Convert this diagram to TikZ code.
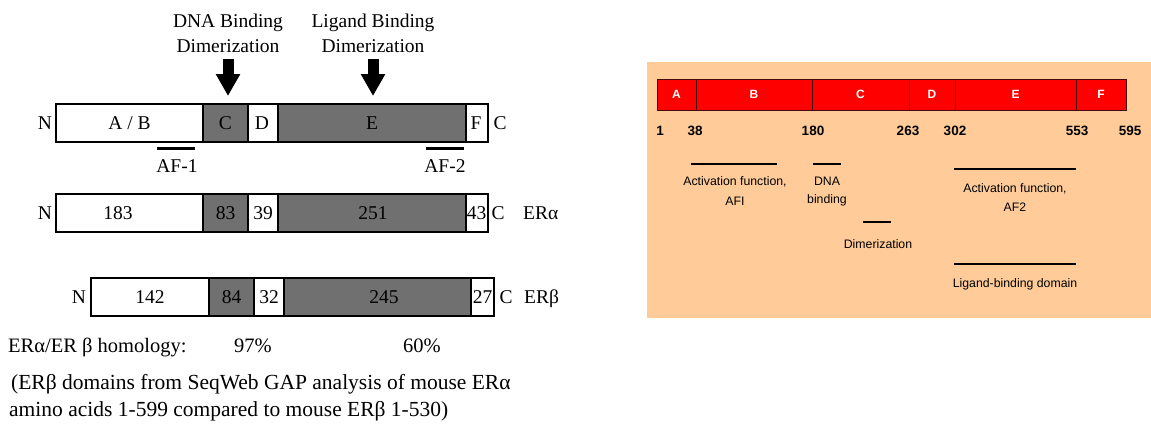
\documentclass[tikz,border=0pt]{standalone}
\usepackage{fontspec}
\setmainfont{Liberation Serif}
\newfontfamily\chic{Liberation Sans}
\usetikzlibrary{arrows.meta}
\definecolor{segGray}{RGB}{112,112,112}
\definecolor{peach}{RGB}{255,204,153}
\definecolor{barRed}{RGB}{255,0,0}
\definecolor{barEdge}{RGB}{70,10,10}
\begin{document}
\begin{tikzpicture}[x=1pt,y=-1pt,
  seg/.style={draw=black,line width=1.3pt,inner sep=0pt,outer sep=0pt,minimum height=38pt,anchor=north west},
  wseg/.style={seg,fill=white},
  gseg/.style={seg,fill=segGray},
  lbl/.style={inner sep=0pt,anchor=base,font=\fontsize{19.5}{23}\selectfont},
  lbll/.style={lbl,anchor=base west},
  notetxt/.style={lbll,font=\fontsize{21.5}{25}\selectfont},
  blockarrow/.style={line width=11pt,-{Triangle[length=22pt,width=23pt]}},
  afline/.style={line width=3pt},
  rseg/.style={draw=barEdge,line width=0.9pt,fill=barRed,inner sep=0pt,outer sep=0pt,minimum height=31pt,anchor=north west},
  rlet/.style={text=white,font=\chic\bfseries\fontsize{12}{14}\selectfont,inner sep=0pt},
  rnum/.style={inner sep=0pt,anchor=base,font=\chic\bfseries\fontsize{13.5}{16}\selectfont},
  rtxt/.style={inner sep=0pt,anchor=base,font=\chic\fontsize{12.3}{14}\selectfont},
  rline/.style={line width=1.1pt}
]
\useasboundingbox (0,0) rectangle (1151,424);

% ---------------- left: row 1 ----------------
\node[lbl] (dna1) at (228,27) {DNA Binding};
\node[lbl] (dna2) at (228,52) {Dimerization};
\node[lbl] (lig1) at (373,27) {Ligand Binding};
\node[lbl] (lig2) at (373,52) {Dimerization};
\coordinate (dnaS) at (228,59);
\coordinate (dnaT) at (228,96);
\coordinate (ligS) at (373,59);
\coordinate (ligT) at (373,96);
\draw[blockarrow] (dnaS) -- (dnaT);
\draw[blockarrow] (ligS) -- (ligT);

\node[wseg,minimum width=147pt] (ab1) at (56,104) {};
\node[gseg,minimum width=45pt] (c1) at (203,104) {};
\node[wseg,minimum width=30pt] (d1) at (248,104) {};
\node[gseg,minimum width=188pt] (e1) at (278,104) {};
\node[wseg,minimum width=22pt] (f1) at (466,104) {};
\node[lbl] at (129.5,129) {A / B};
\node[lbl] at (225.5,129) {C};
\node[lbl] at (262,129) {D};
\node[lbl] at (372,129) {E};
\node[lbl] at (476,129) {F};
\node[lbl] (n1) at (45,129) {N};
\node[lbl] (cc1) at (500,129) {C};

\coordinate (af1a) at (157,148);
\coordinate (af1b) at (195,148);
\draw[afline] (af1a) -- (af1b);
\node[lbl] (af1) at (177,172) {AF-1};
\coordinate (af2a) at (426,148);
\coordinate (af2b) at (464,148);
\draw[afline] (af2a) -- (af2b);
\node[lbl] (af2) at (445,172) {AF-2};

% ---------------- left: row 2 ----------------
\node[wseg,minimum width=147pt] (ab2) at (56,194) {};
\node[gseg,minimum width=45pt] (c2) at (203,194) {};
\node[wseg,minimum width=30pt] (d2) at (248,194) {};
\node[gseg,minimum width=188pt] (e2) at (278,194) {};
\node[wseg,minimum width=22pt] (f2) at (466,194) {};
\node[lbl] at (118,219) {183};
\node[lbl] at (225.5,219) {83};
\node[lbl] at (263,219) {39};
\node[lbl] at (373,219) {251};
\node[lbl] at (476.5,219) {43};
\node[lbl] (n2) at (45,219) {N};
\node[lbl] (cc2) at (498,219) {C};
\node[lbll] (era) at (523,219) {ERα};

% ---------------- left: row 3 ----------------
\node[wseg,minimum width=118pt] (ab3) at (91,278) {};
\node[gseg,minimum width=45pt] (c3) at (209,278) {};
\node[wseg,minimum width=30pt] (d3) at (254,278) {};
\node[gseg,minimum width=187pt] (e3) at (284,278) {};
\node[wseg,minimum width=23pt] (f3) at (471,278) {};
\node[lbl] at (150,303) {142};
\node[lbl] at (231.5,303) {84};
\node[lbl] at (269,303) {32};
\node[lbl] at (384,303) {245};
\node[lbl] at (482.5,303) {27};
\node[lbl] (n3) at (79,303) {N};
\node[lbl] (cc3) at (506,303) {C};
\node[lbll] (erb) at (524,303) {ERβ};

% ---------------- left: text ----------------
\node[lbll,font=\fontsize{20.5}{24}\selectfont] (hom) at (8,352) {ERα/ER β homology:};
\node[lbl,font=\fontsize{20.5}{24}\selectfont] (p97) at (253,352) {97\%};
\node[lbl,font=\fontsize{20.5}{24}\selectfont] (p60) at (422,352) {60\%};
\node[notetxt] (note1) at (11,389) {(ERβ domains from SeqWeb GAP analysis of mouse ERα};
\node[notetxt] (note2) at (9,416) {amino acids 1-599 compared to mouse ERβ 1-530)};

% ---------------- right ----------------
\node[fill=peach,inner sep=0pt,outer sep=0pt,minimum width=504pt,minimum height=256pt,anchor=north west] (bg) at (647,62) {};
\node[rseg,minimum width=39pt] (ra) at (657,79) {};
\node[rseg,minimum width=116pt] (rb) at (696,79) {};
\node[rseg,minimum width=97pt] (rc) at (812,79) {};
\node[rseg,minimum width=46pt] (rd) at (909,79) {};
\node[rseg,minimum width=121pt] (re) at (955,79) {};
\node[rseg,minimum width=50pt] (rf) at (1076,79) {};
\node[rlet] at (ra.center) {A};
\node[rlet] at (rb.center) {B};
\node[rlet] at (rc.center) {C};
\node[rlet] at (rd.center) {D};
\node[rlet] at (re.center) {E};
\node[rlet] at (rf.center) {F};

\node[rnum] at (660,135) {1};
\node[rnum] at (695,135) {38};
\node[rnum] at (813,135) {180};
\node[rnum] at (908,135) {263};
\node[rnum] at (955,135) {302};
\node[rnum] at (1077,135) {553};
\node[rnum] at (1130,135) {595};

\coordinate (l1a) at (691,164); \coordinate (l1b) at (777,164);
\draw[rline] (l1a) -- (l1b);
\node[rtxt] (t1a) at (735,185) {Activation function,};
\node[rtxt] (t1b) at (735,205) {AFI};

\coordinate (l2a) at (813,164); \coordinate (l2b) at (841,164);
\draw[rline] (l2a) -- (l2b);
\node[rtxt] (t2a) at (827,185) {DNA};
\node[rtxt] (t2b) at (827,203) {binding};

\coordinate (l3a) at (863,222); \coordinate (l3b) at (891,222);
\draw[rline] (l3a) -- (l3b);
\node[rtxt] (t3) at (878,248) {Dimerization};

\coordinate (l4a) at (954,169); \coordinate (l4b) at (1076,169);
\draw[rline] (l4a) -- (l4b);
\node[rtxt] (t4a) at (1015,192) {Activation function,};
\node[rtxt] (t4b) at (1015,211) {AF2};

\coordinate (l5a) at (954,264); \coordinate (l5b) at (1076,264);
\draw[rline] (l5a) -- (l5b);
\node[rtxt] (t5) at (1015,287) {Ligand-binding domain};
\end{tikzpicture}
\end{document}
